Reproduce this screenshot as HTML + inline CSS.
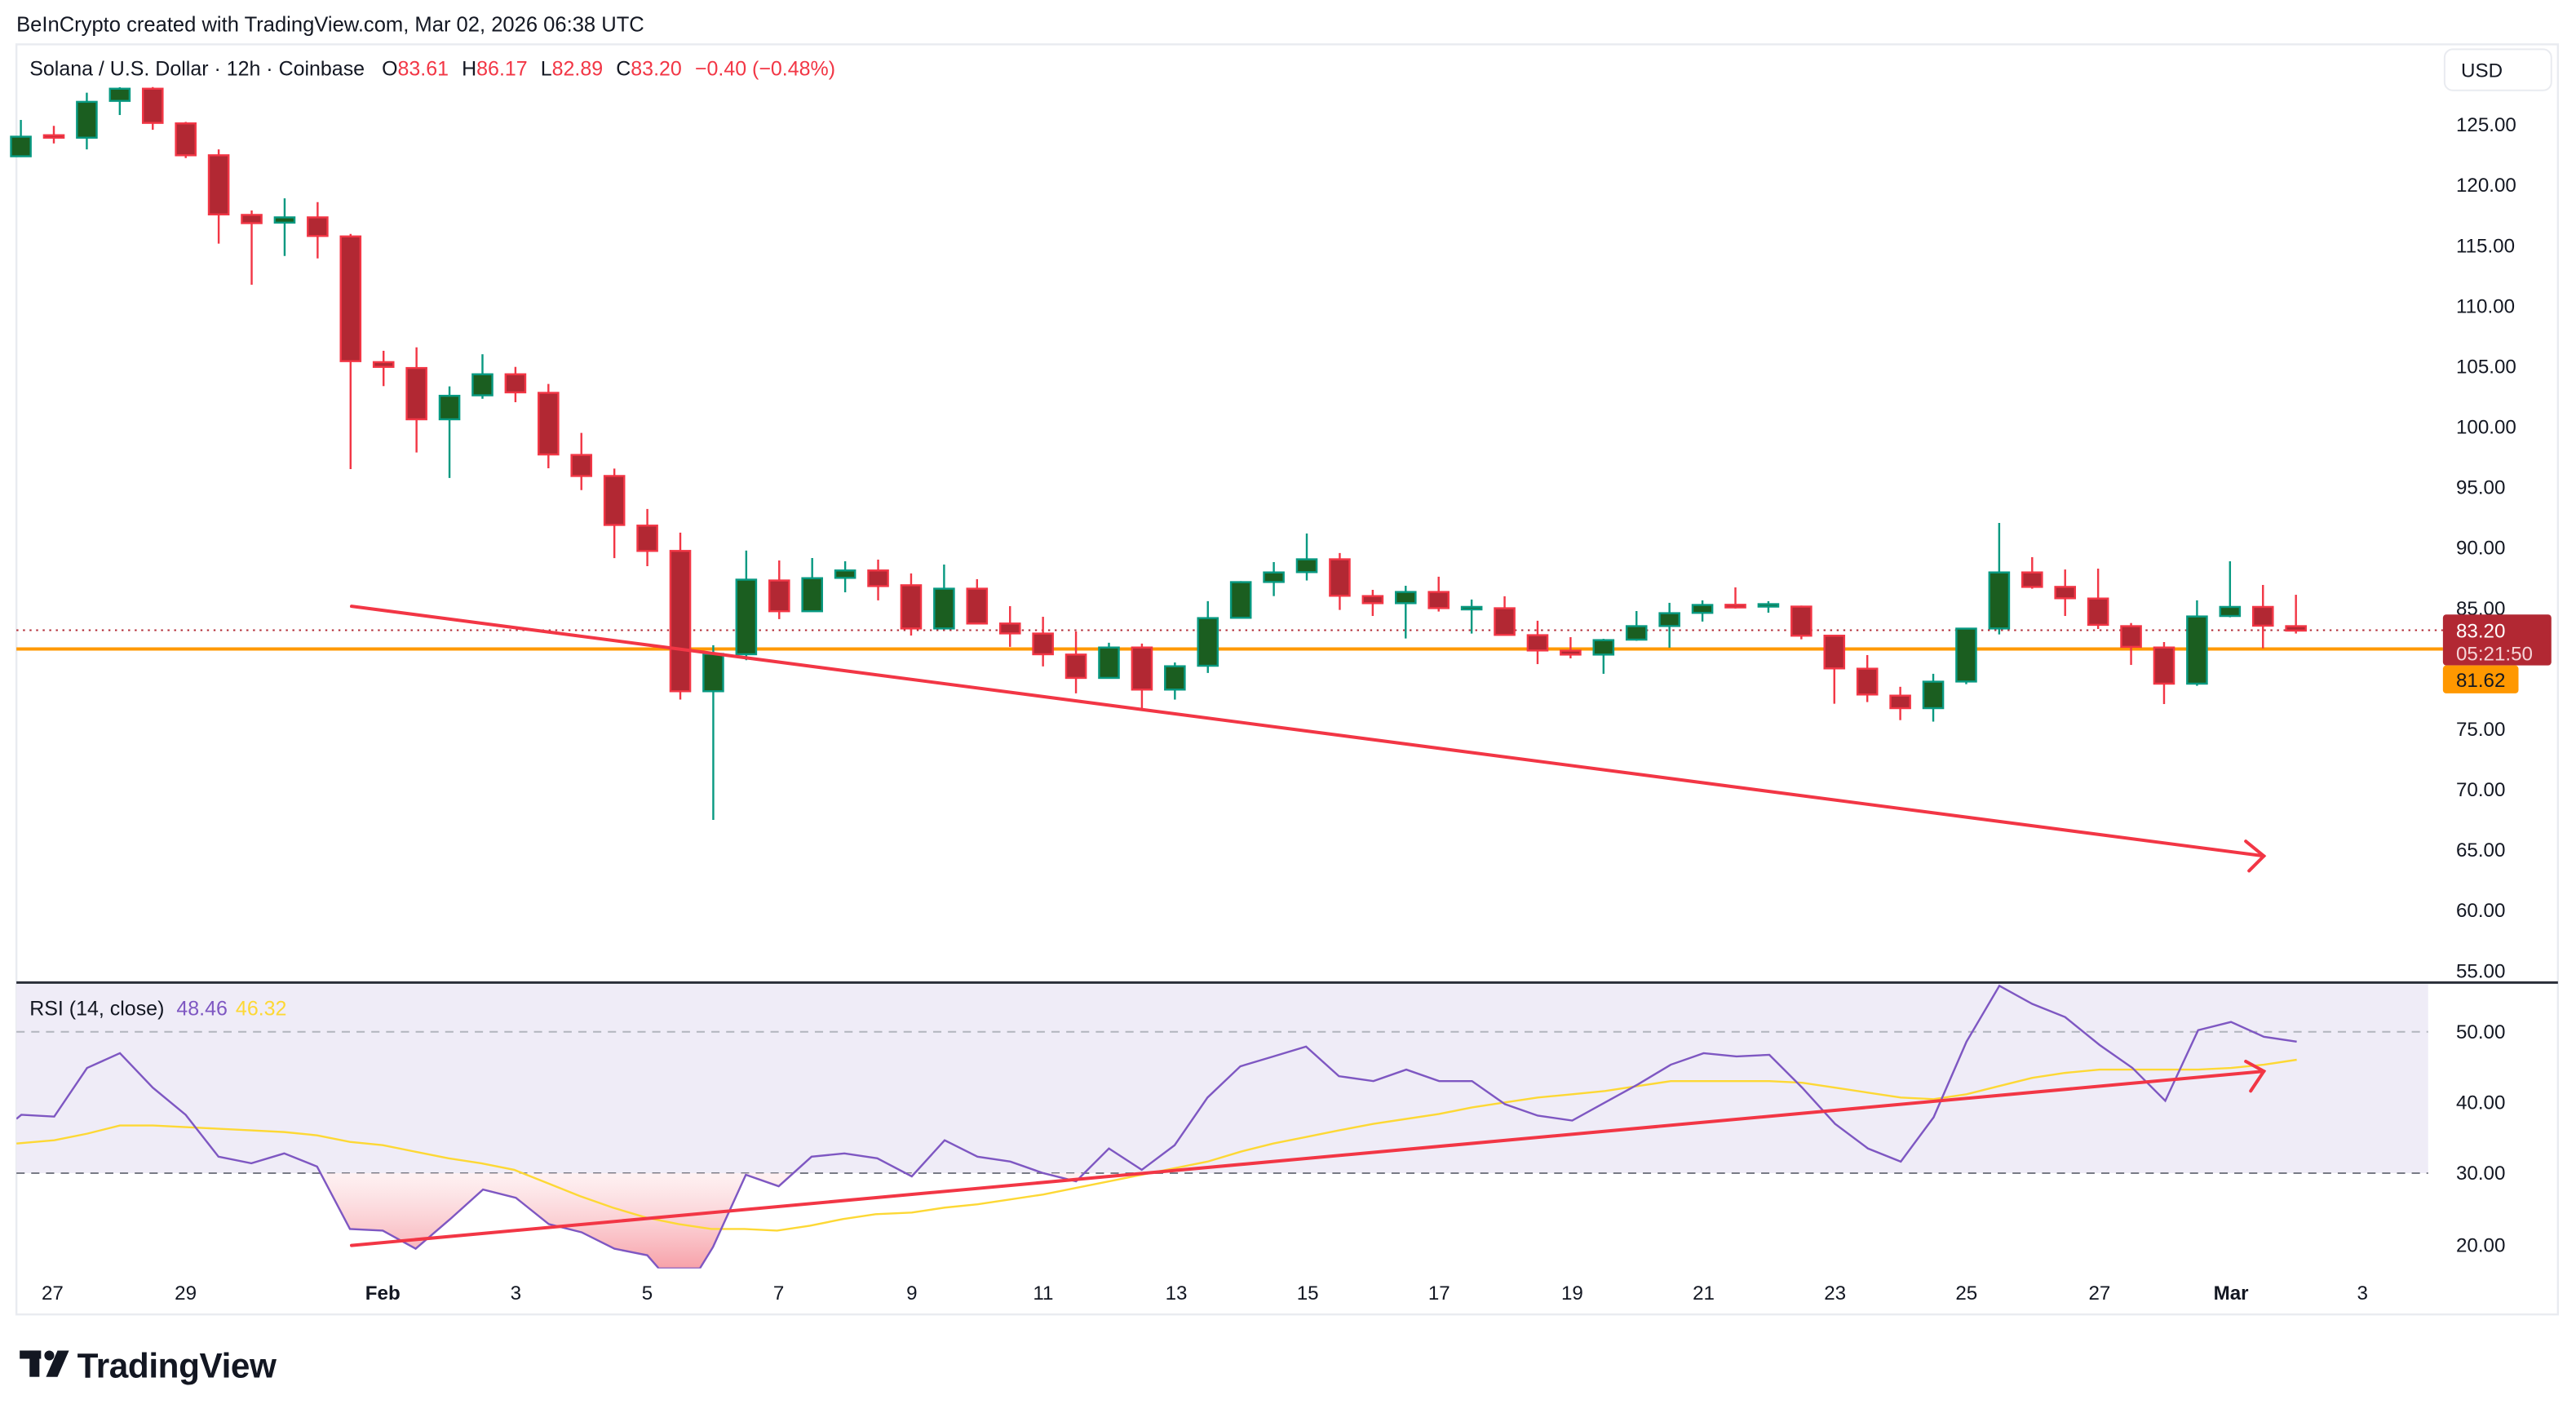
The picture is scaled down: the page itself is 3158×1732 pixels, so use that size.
<!DOCTYPE html>
<html><head><meta charset="utf-8"><style>
html,body{margin:0;padding:0;background:#fff;}
svg{display:block;}
text{font-family:"Liberation Sans",sans-serif;}
</style></head><body>
<svg id="c" width="3158" height="1732" viewBox="0 0 1568 860" preserveAspectRatio="none" xmlns="http://www.w3.org/2000/svg">
<defs>
<linearGradient id="pg" x1="0" y1="714" x2="0" y2="772" gradientUnits="userSpaceOnUse">
<stop offset="0" stop-color="#fde8ea" stop-opacity="0.6"/><stop offset="1" stop-color="#f7a1a9"/>
</linearGradient>
<clipPath id="os"><rect x="10" y="714" width="1470" height="58"/></clipPath>
<clipPath id="rp"><rect x="10" y="598" width="1470" height="174"/></clipPath>
</defs>
<rect width="1568" height="860" fill="#fff"/>
<text x="10" y="19" font-size="12.7" fill="#131722">BeInCrypto created with TradingView.com, Mar 02, 2026 06:38 UTC</text>
<rect x="10" y="27" width="1547" height="773" fill="none" stroke="#e9ebf0" stroke-width="1.2"/>
<rect x="10" y="599" width="1468" height="115" fill="#efecf7"/>
<line x1="10" y1="628" x2="1478" y2="628" stroke="#b2b5be" stroke-width="1" stroke-dasharray="5,4"/>
<line x1="10" y1="714" x2="1478" y2="714" stroke="#787b86" stroke-width="1" stroke-dasharray="5,4"/>
<line x1="10" y1="598" x2="1557" y2="598" stroke="#2a2e39" stroke-width="1.5"/>
<text x="18" y="46" font-size="12.4" fill="#131722">Solana / U.S. Dollar · 12h · Coinbase <tspan dx="7">O</tspan><tspan fill="#f23645">83.61</tspan><tspan dx="8">H</tspan><tspan fill="#f23645">86.17</tspan><tspan dx="8">L</tspan><tspan fill="#f23645">82.89</tspan><tspan dx="8">C</tspan><tspan fill="#f23645">83.20</tspan><tspan dx="8" fill="#f23645">−0.40 (−0.48%)</tspan></text>
<text x="18" y="618" font-size="12.4" fill="#131722">RSI (14, close) <tspan dx="4" fill="#7e57c2">48.46</tspan><tspan dx="5" fill="#fdd835">46.32</tspan></text>
<line x1="10" y1="383.6" x2="1487" y2="383.6" stroke="#b22833" stroke-width="1" stroke-dasharray="1.2,2.8"/>
<line x1="10" y1="395" x2="1487" y2="395" stroke="#ff9800" stroke-width="2"/>
<g id="candles"></g>
<g stroke="#f23645" stroke-width="2" fill="none" stroke-linecap="round">
<line x1="214" y1="369" x2="1378" y2="521"/>
<polyline points="1367,512 1378,521 1369,530"/>
</g>
<g clip-path="url(#os)"><polygon id="osf" fill="url(#pg)"/></g>
<g clip-path="url(#rp)">
<polyline id="ma" fill="none" stroke="#fdd835" stroke-width="1.2"/>
<polyline id="rsi" fill="none" stroke="#7e57c2" stroke-width="1.2"/>
</g>
<g stroke="#f23645" stroke-width="2" fill="none" stroke-linecap="round">
<line x1="214" y1="758" x2="1378" y2="652"/>
<polyline points="1367,646 1378,652 1370,664"/>
</g>
<rect x="1488" y="30" width="65" height="25" rx="5" fill="#fff" stroke="#e9ebf0"/>
<text x="1498" y="47" font-size="12" fill="#131722">USD</text>
<g font-size="12" fill="#131722" id="pax"></g>
<rect x="1487" y="374" width="66" height="31" rx="2" fill="#b22833"/>
<text x="1495" y="388" font-size="12" fill="#fff">83.20</text>
<text x="1495" y="402" font-size="12" fill="#f4d4d7">05:21:50</text>
<rect x="1487" y="405" width="46" height="17" rx="2" fill="#ff9800"/>
<text x="1495" y="418" font-size="12" fill="#131722">81.62</text>
<g font-size="12" fill="#131722">
<text x="1495" y="632">50.00</text><text x="1495" y="675">40.00</text><text x="1495" y="718">30.00</text><text x="1495" y="762">20.00</text>
</g>
<g font-size="12" fill="#131722" text-anchor="middle">
<text x="32" y="791">27</text><text x="113" y="791">29</text><text x="233" y="791" font-weight="bold">Feb</text><text x="314" y="791">3</text><text x="394" y="791">5</text><text x="474" y="791">7</text><text x="555" y="791">9</text><text x="635" y="791">11</text><text x="716" y="791">13</text><text x="796" y="791">15</text><text x="876" y="791">17</text><text x="957" y="791">19</text><text x="1037" y="791">21</text><text x="1117" y="791">23</text><text x="1197" y="791">25</text><text x="1278" y="791">27</text><text x="1358" y="791" font-weight="bold">Mar</text><text x="1438" y="791">3</text>
</g>
<g fill="#131722">
<rect x="12" y="822" width="13" height="5"/><rect x="18" y="822" width="6" height="16"/>
<circle cx="30" cy="825" r="3"/>
<polygon points="35,822 42,822 35,838 28,838"/>
</g>
<text x="47" y="838.5" font-size="21" font-weight="bold" fill="#131722" letter-spacing="-0.2">TradingView</text>
</svg>
<script>
var C=[[83.2,95.1,73,95.6,1],[82.3,83.5,76.6,87.3,0],[62,83.8,56.4,90.9,1],[54,61.4,53.1,70,1],[54,74.8,53,79,0],[75.1,94.5,74.2,96.2,0],[94.5,130.5,90.9,148.3,0],[130.8,135.8,128.1,173.3,0],[132.3,135.5,120.7,155.8,1],[132.3,143.6,123,157.3,0],[143.9,219.8,142.4,285.5,0],[220.4,223.3,213.5,235,0],[224,255.2,211.4,275.4,0],[240.9,255.2,235.2,290.9,1],[227.8,240.6,215.6,242.7,1],[227.8,238.8,223.3,244.8,0],[239.1,276.6,233.7,285,0],[276.9,289.7,263.5,298.3,0],[289.7,319.5,285.2,339.7,0],[319.9,335.3,309.8,344.6,0],[335.3,420.7,324.2,425.8,0],[398,420.7,392.7,499,1],[352.8,398.2,335.1,401.8,1],[353.3,372,341.1,376.8,0],[351.9,372,339.6,372,1],[347.2,351.7,341.6,360.5,1],[347.2,356.7,340.6,365.4,0],[356.2,382.5,349,386.8,0],[358.3,382.5,343.6,382.5,1],[358.3,379.5,352.5,379.5,0],[379.5,385.5,368.9,393.7,0],[385.6,398.2,375.4,405.6,0],[398.4,412.6,384.3,422,0],[394.1,412.6,391.2,412.6,1],[394.1,419.7,391.7,432.3,0],[405.5,419.7,403.2,425.8,1],[376.2,405.2,365.9,409.6,1],[354.3,376,353.7,376,1],[348.4,354.2,342.1,362.8,1],[340.4,348.2,324.7,353.3,1],[340.4,362.6,336.6,371.2,0],[362.8,367.1,359,374.9,0],[360.3,367.1,356.5,388.6,1],[360.3,370.1,351,372.2,0],[369.4,370.4,364.9,385.6,1],[370.2,386.4,362.9,386.4,0],[386.6,395.9,377.8,404.2,0],[396,398.4,387.8,400.7,0],[389.6,398.4,388.8,410.1,1],[381.1,389.3,371.9,390,1],[373.2,381,366.9,394.2,1],[368.2,373,365.4,378.3,1],[368.1,369.7,357.5,370.4,0],[367.7,368.7,365.9,372.9,1],[369.2,386.9,368.6,389.1,0],[386.9,406.8,386.4,428.3,0],[407,422.7,398.7,427.3,0],[423.4,431,418,438.3,0],[414.9,431,410.1,439.2,1],[382.6,414.8,382.6,416.4,1],[348.4,382.5,318.3,386.1,1],[348.4,357.2,339.1,358.3,0],[357.2,364.1,346.6,374.9,0],[364.3,380.3,346.1,382.8,0],[381.1,393.7,379.2,404.7,0],[394.1,416.1,390.8,428.5,0],[375.2,416.1,365.4,417.4,1],[369.4,374.9,341.6,375.7,1],[369.4,380.8,356,394.6,0],[381.1,383.8,362,385.6,0]];
var g=document.getElementById('candles'),h='';
C.forEach(function(c,i){var x=12.7+20.07*i,b=c[4]?'#089981':'#f23645',f=c[4]?'#1b5e20':'#b22833';
var t=c[0],bt=c[1];if(bt-t<1.5){bt=t+1.5;}
h+='<line x1="'+x+'" y1="'+c[2]+'" x2="'+x+'" y2="'+c[3]+'" stroke="'+b+'" stroke-width="1.2"/>';
h+='<rect x="'+(x-6)+'" y="'+t+'" width="12" height="'+(bt-t)+'" fill="'+f+'" stroke="'+b+'" stroke-width="1.2"/>';});
g.innerHTML=h;
var p='';[125,120,115,110,105,100,95,90,85,75,70,65,60,55].forEach(function(v){var y=76+(125-v)*7.357+4;p+='<text x="1495" y="'+y+'">'+v.toFixed(2)+'</text>';});
document.getElementById('pax').innerHTML=p;
var R=[[10,681],[13,678.5],[33,679.6],[53,650],[73,641],[93,662],[113,678.5],[133,704],[153,708],[173,702],[193,710],[213,748],[233,749],[253,760],[274,742],[294,724],[314,729],[334,745],[354,750],[374,760],[394,764],[401,772],[426,772],[434,759],[454,715],[474,722],[494,704],[514,702],[534,705],[555,716],[575,694],[595,704],[615,707],[635,714],[655,719],[675,699],[695,712],[715,697],[735,668],[755,649],[775,643],[795,637],[815,655],[836,658],[856,651],[876,658],[896,658],[916,672],[936,679],[957,682],[977,671],[997,660],[1017,648],[1037,641],[1057,643],[1077,642],[1097,662],[1117,684],[1137,699],[1157,707],[1177,680],[1197,634],[1217,600],[1237,611],[1257,619],[1278,636],[1298,650],[1318,670],[1338,627],[1358,622],[1378,631],[1398,634]];
var M=[[10,696],[33,694],[53,690],[73,685],[93,685],[113,686],[133,687],[153,688],[173,689],[193,691],[213,695],[233,697],[253,701],[273,705],[293,708],[313,712],[333,720],[353,728],[373,735],[393,741],[413,745],[433,748],[453,748],[473,749],[493,746],[513,742],[533,739],[555,738],[575,735],[595,733],[615,730],[635,727],[655,723],[675,719],[695,715],[715,711],[735,707],[755,701],[775,696],[795,692],[815,688],[836,684],[856,681],[876,678],[896,674],[916,671],[936,668],[957,666],[977,664],[997,661],[1017,658],[1037,658],[1057,658],[1077,658],[1097,659],[1117,662],[1137,665],[1157,668],[1177,669],[1197,666],[1217,661],[1237,656],[1257,653],[1278,651],[1298,651],[1318,651],[1338,651],[1358,650],[1378,648],[1398,645]];
function s(a){return a.map(function(q){return q.join(',')}).join(' ');}
document.getElementById('rsi').setAttribute('points',s(R));
document.getElementById('ma').setAttribute('points',s(M));
document.getElementById('osf').setAttribute('points',s(R)+' 1398,714 10,714');
</script>
</body></html>
